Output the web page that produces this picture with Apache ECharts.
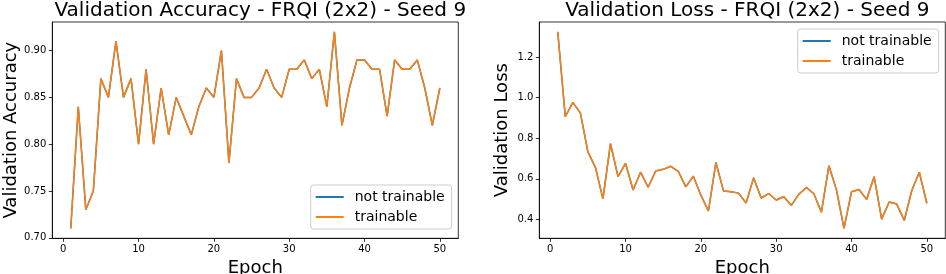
<!DOCTYPE html>
<html>
<head>
<meta charset="utf-8">
<script src="https://cdn.jsdelivr.net/npm/echarts@6/dist/echarts.min.js"></script>
<style>
html,body{margin:0;padding:0;background:#fff;}
#chart{width:946px;height:274px;}
</style>
</head>
<body>
<div id="chart"></div>
<script>
const epochs = [1,2,3,4,5,6,7,8,9,10,11,12,13,14,15,16,17,18,19,20,21,22,23,24,25,26,27,28,29,30,31,32,33,34,35,36,37,38,39,40,41,42,43,44,45,46,47,48,49,50];
const accNotTrainable = [0.71,0.84,0.73,0.75,0.87,0.85,0.91,0.85,0.87,0.80,0.88,0.80,0.86,0.81,0.85,0.83,0.81,0.84,0.86,0.85,0.90,0.78,0.87,0.85,0.85,0.86,0.88,0.86,0.85,0.88,0.88,0.89,0.87,0.88,0.84,0.92,0.82,0.86,0.89,0.89,0.88,0.88,0.83,0.89,0.88,0.88,0.89,0.86,0.82,0.86];
const accTrainable = [0.71,0.84,0.73,0.75,0.87,0.85,0.91,0.85,0.87,0.80,0.88,0.80,0.86,0.81,0.85,0.83,0.81,0.84,0.86,0.85,0.90,0.78,0.87,0.85,0.85,0.86,0.88,0.86,0.85,0.88,0.88,0.89,0.87,0.88,0.84,0.92,0.82,0.86,0.89,0.89,0.88,0.88,0.83,0.89,0.88,0.88,0.89,0.86,0.82,0.86];
const lossNotTrainable = [1.324,0.906,0.977,0.925,0.733,0.657,0.502,0.774,0.611,0.676,0.545,0.633,0.559,0.639,0.647,0.662,0.637,0.561,0.613,0.520,0.442,0.681,0.541,0.537,0.530,0.481,0.605,0.506,0.528,0.496,0.512,0.470,0.524,0.558,0.527,0.436,0.665,0.546,0.356,0.537,0.548,0.499,0.611,0.402,0.486,0.476,0.395,0.543,0.633,0.480];
const lossTrainable = [1.324,0.906,0.977,0.925,0.733,0.657,0.502,0.774,0.611,0.676,0.545,0.633,0.559,0.639,0.647,0.662,0.637,0.561,0.613,0.520,0.442,0.681,0.541,0.537,0.530,0.481,0.605,0.506,0.528,0.496,0.512,0.470,0.524,0.558,0.527,0.436,0.665,0.546,0.356,0.537,0.548,0.499,0.611,0.402,0.486,0.476,0.395,0.543,0.633,0.480];
const xTicks = [0,10,20,30,40,50];
const accTicks = [0.70,0.75,0.80,0.85,0.90];
const lossTicks = [0.4,0.6,0.8,1.0,1.2];
const seriesNames = ['not trainable','trainable'];
const titles = ['Validation Accuracy - FRQI (2x2) - Seed 9','Validation Loss - FRQI (2x2) - Seed 9'];
const yNames = ['Validation Accuracy','Validation Loss'];
const xName = 'Epoch';

const FONT = 'DejaVu Sans';
const pair = (xs, ys) => xs.map((x, i) => [x, ys[i]]);

function xAxisDef(gi){
  return {
    type:'value', gridIndex:gi, min:-1.45, max:52.45,
    name:xName, nameLocation:'middle', nameGap:19,
    nameTextStyle:{fontFamily:FONT,fontSize:18,color:'#000'},
    axisLine:{show:true,onZero:false,lineStyle:{color:'#000',width:0.8}},
    axisTick:{show:true,inside:false,length:3.5,lineStyle:{color:'#000',width:0.8},customValues:xTicks},
    axisLabel:{show:true,margin:6,fontFamily:FONT,fontSize:10,color:'#000',customValues:xTicks,formatter:v=>String(v)},
    splitLine:{show:false}
  };
}
function yAxisDef(gi, mn, mx, ticks, dec, gap){
  return {
    type:'value', gridIndex:gi, min:mn, max:mx,
    name:yNames[gi], nameLocation:'middle', nameGap:gap, nameRotate:90,
    nameTextStyle:{fontFamily:FONT,fontSize:18,color:'#000'},
    axisLine:{show:true,onZero:false,lineStyle:{color:'#000',width:0.8}},
    axisTick:{show:true,inside:false,length:3.5,lineStyle:{color:'#000',width:0.8},customValues:ticks},
    axisLabel:{show:true,margin:6,fontFamily:FONT,fontSize:10,color:'#000',customValues:ticks,formatter:v=>v.toFixed(dec)},
    splitLine:{show:false}
  };
}
function legendDef(left, top, names){
  return {
    orient:'vertical', left:left, top:top,
    data:names.map(n=>({name:n})),
    icon:'rect', itemWidth:28, itemHeight:2, itemGap:6,
    padding:[5,7,5,5],
    backgroundColor:'rgba(255,255,255,0.8)', borderColor:'#cccccc', borderWidth:1, borderRadius:3,
    textStyle:{fontFamily:FONT,fontSize:14,color:'#000',padding:[0,0,0,6]},
    selectedMode:false
  };
}
function lineSeries(name, xi, data, color, z){
  return {
    type:'line', name:name, xAxisIndex:xi, yAxisIndex:xi,
    data:data, showSymbol:false, symbol:'none', z:z,
    lineStyle:{color:color,width:1.5}, itemStyle:{color:color},
    animation:false
  };
}

const chart = echarts.init(document.getElementById('chart'), null, {renderer:'canvas'});
chart.setOption({
  animation:false,
  backgroundColor:'#fff',
  title:[
    {text:titles[0], left:255.3, top:-4, textAlign:'center', textStyle:{fontFamily:FONT,fontSize:20,fontWeight:'normal',color:'#000'}},
    {text:titles[1], left:742.3, top:-4, textAlign:'center', textStyle:{fontFamily:FONT,fontSize:20,fontWeight:'normal',color:'#000'}}
  ],
  grid:[
    {left:52.3, top:22, width:406, height:216.3, show:true, borderColor:'#000', borderWidth:0.8, backgroundColor:'transparent', containLabel:false, outerBoundsMode:'none'},
    {left:539.3, top:22, width:406, height:216.3, show:true, borderColor:'#000', borderWidth:0.8, backgroundColor:'transparent', containLabel:false, outerBoundsMode:'none'}
  ],
  xAxis:[xAxisDef(0), xAxisDef(1)],
  yAxis:[yAxisDef(0,0.6995,0.9305,accTicks,2,31), yAxisDef(1,0.3076,1.3724,lossTicks,1,28)],
  legend:[legendDef(310.7,185,seriesNames), legendDef(797.7,29,seriesNames)],
  series:[
    lineSeries(seriesNames[0],0,pair(epochs,accNotTrainable),'#1f77b4',2),
    lineSeries(seriesNames[1],0,pair(epochs,accTrainable),'#ff7f0e',3),
    lineSeries(seriesNames[0],1,pair(epochs,lossNotTrainable),'#1f77b4',2),
    lineSeries(seriesNames[1],1,pair(epochs,lossTrainable),'#ff7f0e',3)
  ]
});
</script>
</body>
</html>
